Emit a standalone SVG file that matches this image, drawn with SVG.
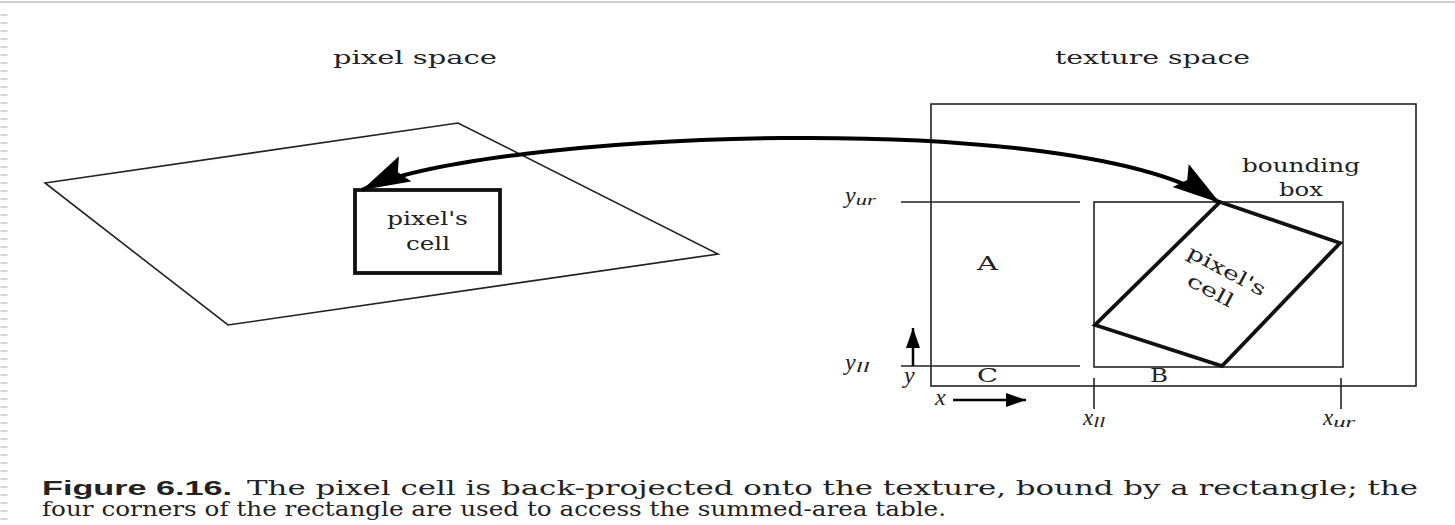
<svg xmlns="http://www.w3.org/2000/svg" width="1455" height="525" viewBox="0 0 1455 525">
  <style>
    .lbl { font-family: "DejaVu Serif", "Liberation Serif", serif; font-size: 19px; fill: #222; }
    .it { font-family: "Liberation Serif", "DejaVu Serif", serif; font-style: italic; fill: #222; }
    .thin { fill: none; stroke: #222; stroke-width: 1.6; }
    .thick { fill: none; stroke: #111; stroke-width: 3.8; stroke-linejoin: miter; }
    .cap { font-family: "DejaVu Serif", "Liberation Serif", serif; font-size: 20px; fill: #222; }
    .capb { font-family: "Liberation Sans", Arial, sans-serif; font-weight: bold; font-size: 21px; fill: #222; }
  </style>
  <defs>
    <marker id="bigHead" markerUnits="userSpaceOnUse" markerWidth="52" markerHeight="30" refX="48" refY="14" orient="auto-start-reverse">
      <path d="M0,0 L48,14 L0,28 L8,14 Z" fill="#000"/>
    </marker>
    <marker id="smallHead" markerUnits="userSpaceOnUse" markerWidth="22" markerHeight="16" refX="20" refY="7" orient="auto">
      <path d="M0,0 L20,7 L0,14 Z" fill="#000"/>
    </marker>
  </defs>

  <!-- screenshot frame artifacts -->
  <g id="frame">
    <line x1="0" y1="2" x2="1455" y2="2" stroke="#d0d0d0" stroke-width="2"/>
    <line x1="4" y1="14" x2="4" y2="525" stroke="#d8d8d8" stroke-width="7" stroke-dasharray="2 6"/>
  </g>

  <!-- pixel space -->
  <g id="pixel-space">
    <text class="lbl" x="333" y="64" textLength="164" lengthAdjust="spacingAndGlyphs" font-size="21">pixel space</text>
    <polygon class="thin" points="45,183 458,123 718,254 228,325"/>
  </g>
  <g id="pixel-cell">
    <rect class="thick" x="355" y="190" width="145" height="83"/>
    <text class="lbl" x="387" y="225" textLength="81" lengthAdjust="spacingAndGlyphs" font-size="20">pixel's</text>
    <text class="lbl" x="406" y="250" textLength="44" lengthAdjust="spacingAndGlyphs" font-size="20">cell</text>
  </g>

  <!-- texture space -->
  <g id="texture-space">
    <text class="lbl" x="1055" y="64" textLength="195" lengthAdjust="spacingAndGlyphs" font-size="21">texture space</text>
    <rect class="thin" x="931" y="104" width="485" height="282"/>
    <line class="thin" x1="901" y1="202" x2="1080" y2="202"/>
    <line class="thin" x1="901" y1="366" x2="1080" y2="366"/>
    <line class="thin" x1="1094" y1="378" x2="1094" y2="409"/>
    <line class="thin" x1="1341" y1="378" x2="1341" y2="409"/>
    <text class="lbl" x="977" y="270" textLength="21" lengthAdjust="spacingAndGlyphs" font-size="20">A</text>
    <text class="lbl" x="977" y="382" textLength="21" lengthAdjust="spacingAndGlyphs" font-size="20">C</text>
    <text class="lbl" x="1150" y="382" textLength="18" lengthAdjust="spacingAndGlyphs" font-size="20">B</text>
    <text class="it" x="845" y="203" font-size="24">y<tspan font-size="15" dy="2" textLength="20" lengthAdjust="spacingAndGlyphs">ur</tspan></text>
    <text class="it" x="845" y="370" font-size="24">y<tspan font-size="15" dy="2" textLength="14" lengthAdjust="spacingAndGlyphs">ll</tspan></text>
    <text class="it" x="904" y="383" font-size="24">y</text>
    <text class="it" x="935" y="405" font-size="24">x</text>
    <text class="it" x="1083" y="425" font-size="23">x<tspan font-size="15" dy="2" textLength="12" lengthAdjust="spacingAndGlyphs">ll</tspan></text>
    <text class="it" x="1323" y="425" font-size="23">x<tspan font-size="15" dy="2" textLength="22" lengthAdjust="spacingAndGlyphs">ur</tspan></text>
  </g>
  <g id="bounding-box">
    <rect class="thin" x="1094" y="202" width="249" height="165"/>
    <text class="lbl" x="1242" y="172" textLength="118" lengthAdjust="spacingAndGlyphs" font-size="21">bounding</text>
    <text class="lbl" x="1279" y="196" textLength="44" lengthAdjust="spacingAndGlyphs" font-size="21">box</text>
  </g>
  <g id="texture-pixel-cell">
    <polygon class="thick" points="1220,202 1340,243 1222,366 1095,325"/>
    <g transform="translate(1226,272) rotate(28)">
      <text class="lbl" x="-43" y="5" textLength="86" lengthAdjust="spacingAndGlyphs" font-size="20">pixel's</text>
      <text class="lbl" x="-30" y="30" textLength="50" lengthAdjust="spacingAndGlyphs" font-size="20">cell</text>
    </g>
  </g>

  <!-- connectors -->
  <g id="connectors">
    <path d="M362,190 C480,132 1080,105 1220,203" fill="none" stroke="#000" stroke-width="4" marker-start="url(#bigHead)" marker-end="url(#bigHead)"/>
    <line x1="913" y1="366" x2="913" y2="328" stroke="#000" stroke-width="2.5" marker-end="url(#smallHead)"/>
    <line x1="953" y1="400" x2="1026" y2="400" stroke="#000" stroke-width="2.5" marker-end="url(#smallHead)"/>
  </g>

  <!-- caption -->
  <g id="caption">
    <text class="capb" x="42" y="495" textLength="190" lengthAdjust="spacingAndGlyphs">Figure 6.16.</text>
    <text class="cap" x="247" y="495" textLength="1171" lengthAdjust="spacingAndGlyphs">The pixel cell is back-projected onto the texture, bound by a rectangle; the</text>
    <text class="cap" x="42" y="516" textLength="904" lengthAdjust="spacingAndGlyphs">four corners of the rectangle are used to access the summed-area table.</text>
  </g>
</svg>
